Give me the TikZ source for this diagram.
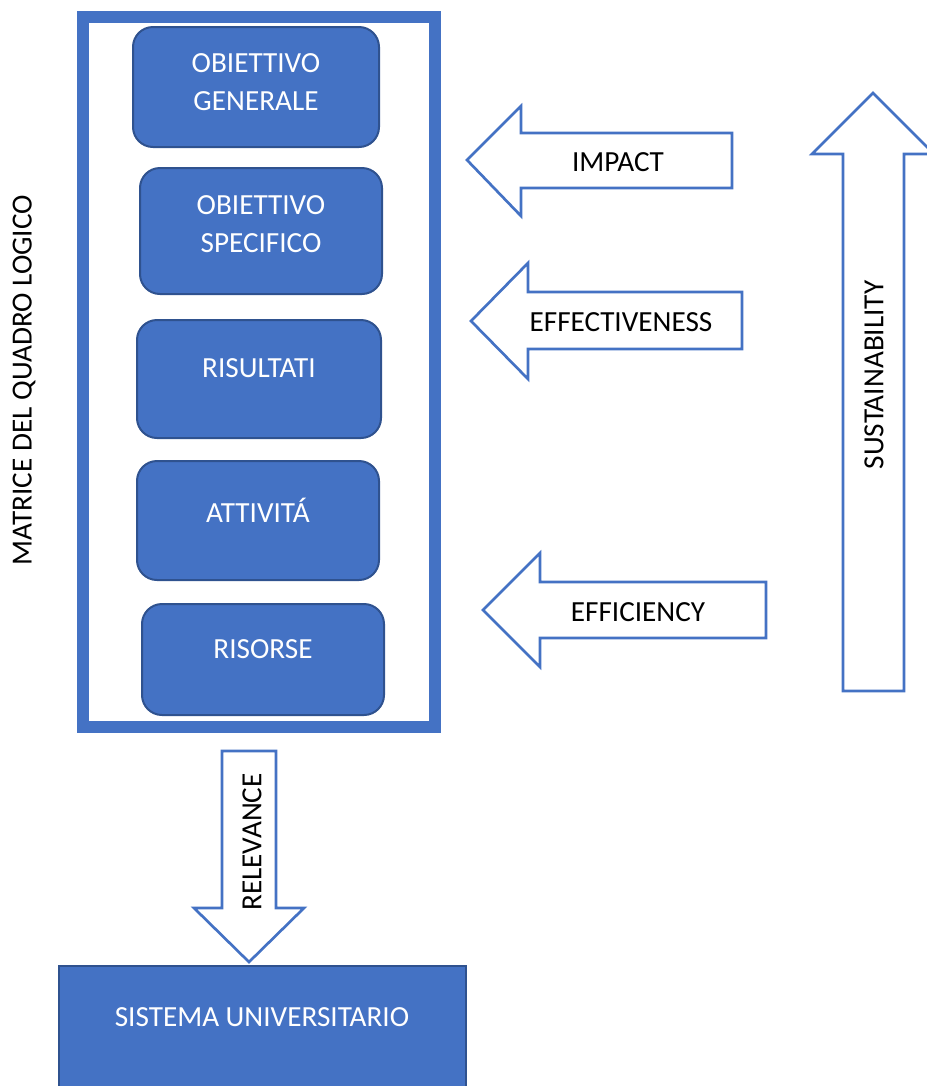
\documentclass[tikz,border=0pt]{standalone}
\usepackage{fontspec}
\setmainfont{Carlito}
\definecolor{accent}{HTML}{4472C4}
\definecolor{accentdark}{HTML}{2F528F}
\begin{document}
\begin{tikzpicture}[x=0.75pt,y=-0.75pt,
  bluebox/.style={fill=accent,draw=accentdark,line width=1.5pt,rounded corners=15pt},
  wtext/.style={text=white,font=\fontsize{21.9}{29}\selectfont,align=center,inner sep=0pt},
  btext/.style={text=black,font=\fontsize{21.9}{29}\selectfont,align=center,inner sep=0pt},
  hollow/.style={draw=accent,line width=2pt,fill=white,line join=miter}]
\useasboundingbox (0,0) rectangle (927,1086);
% frame
\draw[accent,line width=9pt] (83,17) rectangle (435,727);
% boxes
\draw[bluebox] (133,27) rectangle (379,147);
\node[wtext] (og) at (256,82) {OBIETTIVO\\GENERALE};
\draw[bluebox] (140,168) rectangle (382,294);
\node[wtext] (os) at (261,224) {OBIETTIVO\\SPECIFICO};
\draw[bluebox] (137,320) rectangle (381,438);
\node[wtext] (ri) at (259,368) {RISULTATI};
\draw[bluebox] (137,461) rectangle (379,580);
\node[wtext] (at) at (258,510) {ATTIVIT\'A};
\draw[bluebox] (142,604) rectangle (384,715);
\node[wtext] (rs) at (263,649) {RISORSE};
% left vertical label
\node[btext,rotate=90] (mq) at (24,380) {MATRICE DEL QUADRO LOGICO};
% IMPACT arrow
\draw[hollow] (467,160) -- (521,106) -- (521,133) -- (732,133) -- (732,188) -- (521,188) -- (521,216) -- cycle;
\node[btext] (im) at (618,162) {IMPACT};
% EFFECTIVENESS arrow
\draw[hollow] (471,321) -- (528,263) -- (528,292) -- (742,292) -- (742,349) -- (528,349) -- (528,379) -- cycle;
\node[btext] (ef) at (621,322) {EFFECTIVENESS};
% EFFICIENCY arrow
\draw[hollow] (483,610) -- (540,553) -- (540,582) -- (766,582) -- (766,638) -- (540,638) -- (540,667) -- cycle;
\node[btext] (ec) at (638,612) {EFFICIENCY};
% SUSTAINABILITY arrow
\draw[hollow] (873,93) -- (934,154) -- (904,154) -- (904,691) -- (843,691) -- (843,154) -- (812,154) -- cycle;
\node[btext,rotate=90] (su) at (874,375) {SUSTAINABILITY};
% RELEVANCE arrow
\draw[hollow] (222,751) -- (276,751) -- (276,908) -- (304,908) -- (249,962) -- (194,908) -- (222,908) -- cycle;
\node[btext,rotate=90] (re) at (252,842) {RELEVANCE};
% SISTEMA UNIVERSITARIO
\draw[fill=accent,draw=accentdark,line width=1.5pt] (59,966) rectangle (466,1095);
\node[wtext] (su2) at (262,1017) {SISTEMA UNIVERSITARIO};
\end{tikzpicture}
\end{document}
